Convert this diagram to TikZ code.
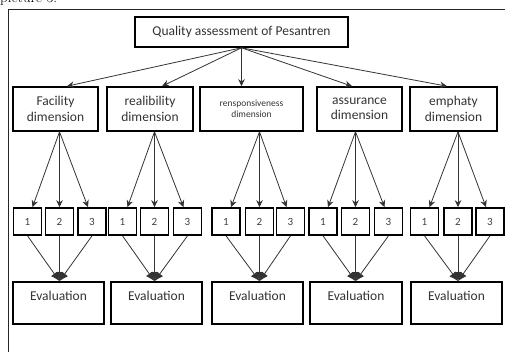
\documentclass[tikz,border=0pt]{standalone}
\usepackage{fontspec}
\newfontfamily\diagfont{Carlito}
\usetikzlibrary{arrows.meta}
\tikzset{
  frame/.style={draw=black!85, line width=1pt},
  bigbox/.style={draw=black, line width=1.6pt, align=center, inner sep=2pt,
    font=\diagfont\fontsize{13.5}{15.5}\selectfont, text=black!80},
  dimbox/.style={bigbox, minimum height=44pt},
  numbox/.style={draw=black, line width=1.6pt, minimum width=28pt, minimum height=27pt,
    inner sep=0pt, font=\diagfont\fontsize{11}{12}\selectfont, text=black!75},
  evalbox/.style={bigbox, minimum width=91pt, text height=14pt, text depth=20pt, inner ysep=4pt},
  down/.style={-{Stealth[length=7pt,width=6.5pt]}, draw=black!80, line width=0.8pt},
  meet/.style={-{Latex[length=9pt,width=8pt]}, draw=black!80, line width=0.8pt}
}
\begin{document}
\begin{tikzpicture}[x=1pt,y=-1pt]
  \clip (0,0) rectangle (505,351);
  \node[anchor=base west, inner sep=0pt, font=\fontsize{15}{16}\selectfont] (cap) at (0,2) {picture 3:};
  \draw[frame] (8,9) rectangle (530,380);
  % top and dimensions
  \node[bigbox, minimum width=213pt, minimum height=30pt] (top) at (241.5,32) {Quality assessment of Pesantren};
  \node[dimbox, minimum width=85pt] (d1) at (55.5,109) {Facility\\dimension};
  \node[dimbox, minimum width=86pt] (d2) at (150,109) {realibility\\dimension};
  \node[dimbox, minimum width=103pt, font=\diagfont\fontsize{9.5}{11}\selectfont] (d3) at (251.5,109) {rensponsiveness\\dimension};
  \node[dimbox, minimum width=85pt] (d4) at (359.5,109) {assurance\\dimension};
  \node[dimbox, minimum width=87pt] (d5) at (453.5,109) {emphaty\\dimension};
  \draw[down] (top.south) -- ([xshift=11.5pt]d1.north);
  \draw[down] (top.south) -- ([xshift=12pt]d2.north);
  \draw[down] (top.south) -- (top.south |- d3.north);
  \draw[down] (top.south) -- ([xshift=-7.5pt]d4.north);
  \draw[down] (top.south) -- ([xshift=-6.5pt]d5.north);
  % indicators
  \foreach \g/\xa/\xb/\xc in {1/27.5/59.5/92, 2/122.5/154.5/187.5, 3/226/259.5/290.5,
                              4/323/355.5/388.5, 5/424.5/458/490} {
    \node[numbox] (s\g1) at (\xa,221.5) {1};
    \node[numbox] (s\g2) at (\xb,221.5) {2};
    \node[numbox] (s\g3) at (\xc,221.5) {3};
  }
  % evaluation
  \node[evalbox] (e1) at (58.5,303) {Evaluation};
  \node[evalbox] (e2) at (156.5,303) {Evaluation};
  \node[evalbox] (e3) at (257.5,303) {Evaluation};
  \node[evalbox, minimum width=92pt] (e4) at (356,303) {Evaluation};
  \node[evalbox] (e5) at (456.5,303) {Evaluation};
  \foreach \g in {1,...,5} {
    \draw[down] (d\g.south -| s\g2) -- ([xshift=5pt]s\g1.north);
    \draw[down] (d\g.south -| s\g2) -- (s\g2.north);
    \draw[down] (d\g.south -| s\g2) -- ([xshift=-4pt]s\g3.north);
    \draw[meet] (s\g1.south) -- (e\g.north -| s\g2);
    \draw[meet] (s\g2.south) -- (e\g.north -| s\g2);
    \draw[meet] (s\g3.south) -- (e\g.north -| s\g2);
  }
\end{tikzpicture}
\end{document}
